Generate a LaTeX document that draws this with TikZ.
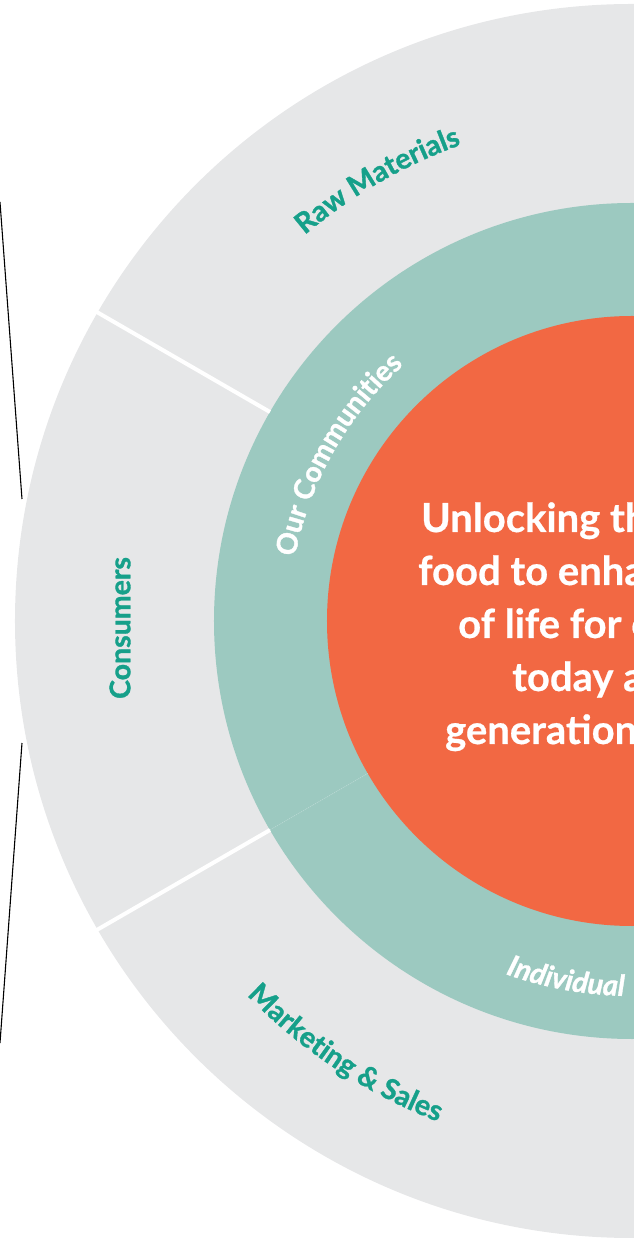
\documentclass[tikz,border=0pt]{standalone}
\usepackage{fontspec}
\setmainfont{Lato}
\newfontfamily\heavyfont{Lato Bold}[FakeBold=1.2]
\newfontfamily\heavyitfont{Lato Bold Italic}[FakeBold=1.2]
\newfontfamily\corefam{Lato Bold}[FakeBold=0.6]
\usetikzlibrary{decorations.text}
\definecolor{ringgray}{HTML}{E6E7E8}
\definecolor{ringteal}{HTML}{9CC9C0}
\definecolor{coreorange}{HTML}{F26843}
\definecolor{labteal}{HTML}{16A08A}
\newcommand\lablfont{\heavyfont\fontsize{28.5}{28.5}\selectfont}
\newcommand\labitfont{\heavyitfont\fontsize{29}{29}\selectfont}
\newcommand\corefont{\corefam\fontsize{40}{40}\selectfont}
\tikzset{
  divider/.style={white, line width=4pt},
  edgeline/.style={black, line width=1.1pt},
  coreline/.style={text=white, font=\corefont, inner sep=0pt, anchor=base west},
}
\begin{document}
\begin{tikzpicture}[x=1pt,y=1pt]
\useasboundingbox (-632,-617) rectangle (1,621);
% rings
\fill[ringgray] (0,0) circle (617pt);
\fill[ringteal] (0,0) circle (418pt);
\fill[coreorange] (0,0) circle (305pt);
% dividers
\coordinate (d1a) at (150:418pt); \coordinate (d1b) at (150:622pt);
\coordinate (d2a) at (210:418pt); \coordinate (d2b) at (210:622pt);
\coordinate (d3a) at (210:305pt);
\draw[divider] (d1a) -- (d1b);
\draw[divider] (d2a) -- (d2b);
\draw[white, opacity=.45, line width=.5pt, dash pattern=on 1pt off 1pt] (d3a) -- (d2a);
% outer labels
\path[decorate, decoration={text along path, text align=center,
  text={|\color{labteal}\lablfont|Raw Materials}}]
  (150:506pt) arc[start angle=150, end angle=90, radius=506pt];
\path[decorate, decoration={text along path, text align=center,
  text={|\color{labteal}\lablfont|Marketing {\&} Sales}}]
  (206.5:537pt) arc[start angle=206.5, end angle=266.5, radius=537pt];
\node[rotate=90, text=labteal, font=\lablfont, inner sep=0pt] (cons) at (-512,-7) {Consumers};
% teal ring labels
\path[decorate, decoration={text along path, text align=center,
  text={|\color{white}\lablfont|Our Communities}}]
  (180:343pt) arc[start angle=180, end angle=121, radius=343pt];
\path[decorate, decoration={text along path, text align=left,
  text={|\color{white}\labitfont|Individual}}]
  (250.3:375pt) arc[start angle=250.3, end angle=300, radius=375pt];
% core text
\node[coreline] (c1) at (-211,89) {Unlocking th};
\node[coreline] (c2) at (-214,36) {food to enha};
\node[coreline] (c3) at (-174,-17) {of life for e};
\node[coreline] (c4) at (-120,-70) {today a};
\node[coreline] (c5) at (-187,-123) {generation};
% thin black lines at the far left
\coordinate (l1a) at (-632,419); \coordinate (l1b) at (-610,122);
\coordinate (l2a) at (-610,-122); \coordinate (l2b) at (-632,-422);
\draw[edgeline] (l1a) -- (l1b);
\draw[edgeline] (l2a) -- (l2b);
\end{tikzpicture}
\end{document}
